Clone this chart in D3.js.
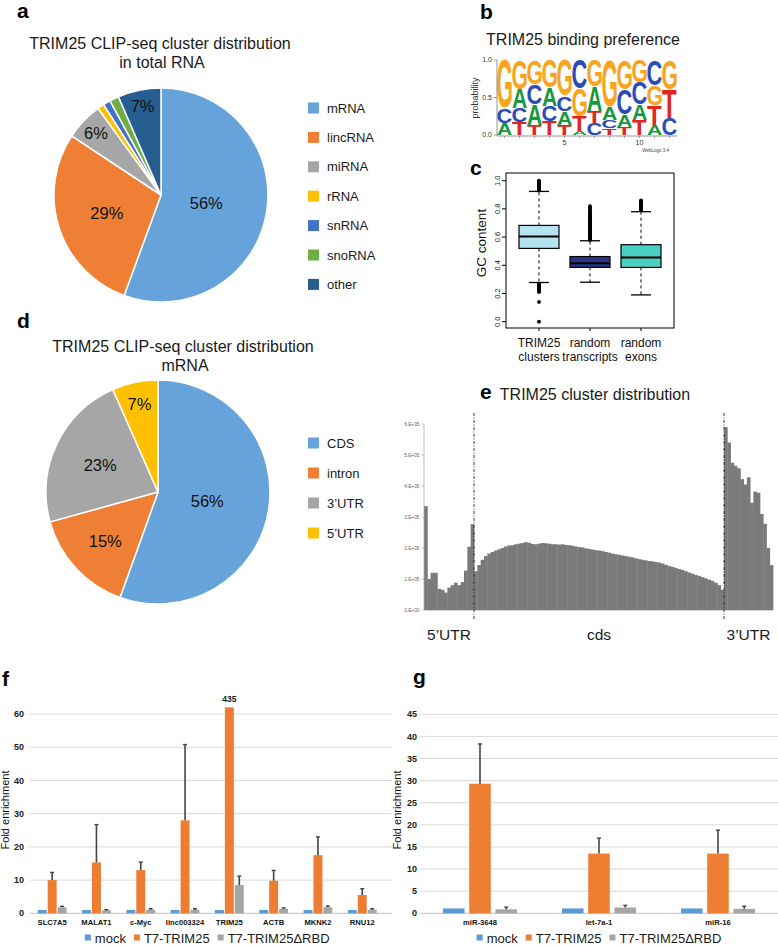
<!DOCTYPE html>
<html><head><meta charset="utf-8">
<script src="https://cdn.jsdelivr.net/npm/d3@7"></script>
<style>
body{margin:0;background:#fff}
svg{display:block;font-family:'Liberation Sans',Arial,Helvetica,sans-serif}
</style></head><body>
<svg id="fig" width="778" height="945"></svg>
<script>
// ---------------- DATA ----------------
// a: total RNA pie
const pieACats = ["mRNA","lincRNA","miRNA","rRNA","snRNA","snoRNA","other"];
const pieAValues = [55.6,28.7,5.7,1.0,1.1,1.4,6.5];
const pieALabels = ["56%","29%","6%","","","","7%"];
// d: mRNA pie
const pieDCats = ["CDS","intron","3\u2019UTR","5\u2019UTR"];
const pieDValues = [55.5,15.2,22.7,6.6];
const pieDLabels = ["56%","15%","23%","7%"];
// b: sequence logo (probabilities per position)
const logoPositions = [1,2,3,4,5,6,7,8,9,10,11,12];
const logoA = [0.16,0.25,0.27,0.24,0.18,0.05,0.33,0.18,0.16,0.21,0.14,0.00];
const logoC = [0.20,0.19,0.27,0.21,0.20,0.38,0.16,0.11,0.34,0.29,0.34,0.23];
const logoG = [0.64,0.39,0.32,0.37,0.48,0.37,0.35,0.62,0.39,0.30,0.27,0.39];
const logoT = [0.00,0.17,0.14,0.18,0.14,0.20,0.16,0.09,0.11,0.20,0.25,0.38];
const logoXTicks = [5,10];
const logoYTicks = [0,0.5,1];
// c: box plot
const boxGroups = [["TRIM25","clusters"],["random","transcripts"],["random","exons"]];
const boxQ1 = [0.52,0.385,0.385];
const boxMedian = [0.605,0.415,0.455];
const boxQ3 = [0.683,0.462,0.546];
const boxWhiskerLo = [0.278,0.28,0.19];
const boxWhiskerHi = [0.924,0.574,0.78];
const boxOutliers1 = [1.0,0.995,0.99,0.985,0.98,0.975,0.97,0.965,0.96,0.955,0.95,0.945,0.94,0.935,0.93,0.27,0.265,0.26,0.255,0.25,0.245,0.24,0.235,0.23,0.225,0.22,0.215,0.21,0.14,0.0];
const boxOutliers2 = [0.58,0.585,0.59,0.595,0.60,0.605,0.61,0.615,0.62,0.625,0.63,0.635,0.64,0.645,0.65,0.655,0.66,0.665,0.67,0.675,0.68,0.685,0.69,0.695,0.70,0.705,0.71,0.715,0.72,0.725,0.73,0.735,0.74,0.745,0.75,0.755,0.76,0.77,0.78,0.79,0.80,0.81,0.82];
const boxOutliers3 = [0.79,0.795,0.80,0.805,0.81,0.815,0.82,0.825,0.83,0.835,0.84,0.845,0.85,0.855,0.86];
const boxYTicks = [0,0.2,0.4,0.6,0.8,1.0];
// e: cluster distribution (units of 1e5)
const distUTR5 = [3.35,1.0,1.2,1.2,0.68,0.65,0.56,0.72,0.8,0.88,0.8,0.9,1.27,2.04,2.77];
const distCDS = [1.25,1.45,1.62,1.74,1.82,1.87,1.92,1.96,2.00,2.05,2.08,2.09,2.12,2.14,2.16,2.19,2.17,2.13,2.12,2.14,2.16,2.15,2.14,2.12,2.12,2.11,2.12,2.10,2.09,2.07,2.05,2.03,2.02,1.99,1.97,1.95,1.93,1.92,1.90,1.87,1.85,1.82,1.80,1.78,1.76,1.74,1.72,1.70,1.67,1.64,1.62,1.60,1.58,1.57,1.55,1.53,1.50,1.46,1.42,1.39,1.36,1.32,1.29,1.25,1.21,1.17,1.13,1.10,1.06,1.02,0.98,0.94,0.88,0.80,0.65];
const distUTR3 = [5.9,5.4,4.75,4.65,4.57,4.22,4.05,4.28,3.46,3.82,3.78,3.1,2.78,2.0,1.45];
const distYTicks = [0,1,2,3,4,5,6];
const distYTickLabels = ["0.E+00","1.E+05","2.E+05","3.E+05","4.E+05","5.E+05","6.E+05"];
const distRegions = ["5\u2019UTR","cds","3\u2019UTR"];
// f, g: fold enrichment
const seriesNames = ["mock","T7-TRIM25","T7-TRIM25\u0394RBD"];
const fCats = ["SLC7A5","MALAT1","c-Myc","linc003324","TRIM25","ACTB","MKNK2","RNU12"];
const fMock = [1,1,1,1,1,1,1,1];
const fT7 = [10,15.3,13,28,435,9.8,17.5,5.5];
const fT7Err = [2.3,11.4,2.4,22.8,0,3.1,5.5,1.9];
const fDRBD = [1.8,0.9,1.1,1.1,8.5,1.3,1.8,1.1];
const fDRBDErr = [0.3,0.2,0.3,0.3,2.7,0.3,0.4,0.3];
const fYTicks = [0,10,20,30,40,50,60];
const gCats = ["miR-3648","let-7a-1","miR-16"];
const gMock = [1.1,1.1,1.1];
const gT7 = [29.3,13.5,13.5];
const gT7Err = [9.0,3.5,5.3];
const gDRBD = [0.9,1.3,1.0];
const gDRBDErr = [0.5,0.5,0.6];
const gYTicks = [0,5,10,15,20,25,30,35,40,45];

// ---------------- DRAW ----------------
const svg = d3.select("#fig");
const INK = "#1a1a1a";
function txt(x,y,s,size,o={}){
  const t = svg.append("text").attr("x",x).attr("y",y).attr("font-size",size).attr("fill",o.fill||INK).text(s);
  if(o.anchor) t.attr("text-anchor",o.anchor);
  if(o.weight) t.attr("font-weight",o.weight);
  if(o.dy) t.attr("dy",o.dy);
  if(o.rot!=null) t.attr("transform",`rotate(${o.rot},${x},${y})`);
  return t;
}
// panel letters
[["a",17,18],["b",480,19],["c",470,175],["d",17,328],["e",480,399],["f",2,686],["g",413,684]]
  .forEach(([l,x,y])=>txt(x,y,l,21,{weight:"bold",fill:"#000"}));

// ---- pies ----
function pie(cx,cy,r,vals,labels,colors,labelR){
  const g = svg.append("g").attr("transform",`translate(${cx},${cy})`);
  const arcs = d3.pie().sort(null).value(d=>d)(vals);
  const arc = d3.arc().innerRadius(0).outerRadius(r);
  g.selectAll("path").data(arcs).join("path").attr("d",arc)
    .attr("fill",(d,i)=>colors[i]).attr("stroke","#fff").attr("stroke-width",1.5);
  arcs.forEach((a,i)=>{
    if(!labels[i]) return;
    const m=(a.startAngle+a.endAngle)/2, rr=labelR[i];
    g.append("text").attr("x",Math.sin(m)*rr).attr("y",-Math.cos(m)*rr).attr("dy","0.36em")
      .attr("text-anchor","middle").attr("font-size",16.5).attr("fill","#111").text(labels[i]);
  });
}
function legend(x,y0,step,cats,colors){
  cats.forEach((c,i)=>{
    const y=y0+i*step;
    svg.append("rect").attr("x",x).attr("y",y-5.5).attr("width",11).attr("height",11).attr("fill",colors[i]);
    txt(x+19,y,c,13,{dy:"0.36em"});
  });
}
const colA = ["#66a3da","#ee7f34","#a6a6a6","#ffc000","#4472c4","#70ad47","#265e92"];
txt(160,49,"TRIM25 CLIP-seq cluster distribution",16,{anchor:"middle"});
txt(162,68,"in total RNA",16,{anchor:"middle"});
pie(161,195,107,pieAValues,pieALabels,colA,[46,57,90,0,0,0,91]);
legend(308,108,29.4,pieACats,colA);

const colD = ["#66a3da","#ee7f34","#a6a6a6","#ffc000"];
txt(183,352,"TRIM25 CLIP-seq cluster distribution",16,{anchor:"middle"});
txt(185,371,"mRNA",16,{anchor:"middle"});
pie(158,492,112,pieDValues,pieDLabels,colD,[50,72,64,90]);
legend(308,443,30,pieDCats,colD);

// ---- b: sequence logo ----
txt(583,45,"TRIM25 binding preference",16,{anchor:"middle"});
const lx = d3.scaleBand().domain(logoPositions).range([497,677]).paddingInner(0.04).paddingOuter(0.02);
const ly = d3.scaleLinear().domain([0,1]).range([135,60]);
const logoColors = {A:"#17993b",C:"#2b4db5",G:"#f7a51e",T:"#e2251f"};
const ctx = document.createElement("canvas").getContext("2d");
ctx.font = "bold 100px 'Liberation Sans'";
const met = {};
["A","C","G","T"].forEach(l=>met[l]=ctx.measureText(l));
logoPositions.forEach((p,i)=>{
  const stack=[{l:"A",v:logoA[i]},{l:"C",v:logoC[i]},{l:"G",v:logoG[i]},{l:"T",v:logoT[i]}]
    .filter(d=>d.v>0).sort((a,b)=>a.v-b.v);
  let cum=0;
  stack.forEach(d=>{
    const y0=ly(cum), y1=ly(cum+d.v); cum+=d.v;
    const m=met[d.l], w=lx.bandwidth(), h=y0-y1;
    const iw=m.actualBoundingBoxLeft+m.actualBoundingBoxRight;
    const ih=m.actualBoundingBoxAscent+m.actualBoundingBoxDescent;
    const sx=w/iw, sy=h/ih;
    svg.append("text").attr("font-size",100).attr("font-weight","bold").attr("fill",logoColors[d.l])
      .attr("transform",`translate(${lx(p)+m.actualBoundingBoxLeft*sx},${y0-m.actualBoundingBoxDescent*sy}) scale(${sx},${sy})`)
      .text(d.l);
  });
});
svg.append("line").attr("x1",497).attr("x2",497).attr("y1",ly(1)).attr("y2",ly(0)+1).attr("stroke","#666").attr("stroke-width",0.7);
svg.append("line").attr("x1",497).attr("x2",677).attr("y1",136).attr("y2",136).attr("stroke","#666").attr("stroke-width",0.7);
logoYTicks.forEach(t=>{
  svg.append("line").attr("x1",494).attr("x2",497).attr("y1",ly(t)).attr("y2",ly(t)).attr("stroke","#666").attr("stroke-width",0.7);
  txt(492,ly(t),d3.format(".1f")(t),7,{anchor:"end",dy:"0.35em",fill:"#333"});
});
logoPositions.forEach(p=>{
  const cx=lx(p)+lx.bandwidth()/2;
  svg.append("line").attr("x1",cx).attr("x2",cx).attr("y1",136).attr("y2",138).attr("stroke","#666").attr("stroke-width",0.6);
});
logoXTicks.forEach(t=>txt(lx(t)+lx.bandwidth()/2,145,String(t),7,{anchor:"middle",fill:"#333"}));
txt(478,98,"probability",9,{anchor:"middle",rot:-90,fill:"#333"});
txt(669,152,"WebLogo 3.4",4.5,{anchor:"end",fill:"#444"});

// ---- c: box plot ----
const by = d3.scaleLinear().domain([0,1]).range([321.7,180.7]);
const bx = d3.scalePoint().domain(d3.range(boxGroups.length)).range([506,674]).padding(0.647);
const boxColors = ["#b5e3ef","#2c3582","#4bcfc1"];
const boxOut = [boxOutliers1,boxOutliers2,boxOutliers3];
svg.append("rect").attr("x",506).attr("y",173).attr("width",168).attr("height",155).attr("fill","none").attr("stroke","#000").attr("stroke-width",1);
boxYTicks.forEach(t=>{
  svg.append("line").attr("x1",502).attr("x2",506).attr("y1",by(t)).attr("y2",by(t)).attr("stroke","#000");
  txt(500,by(t),d3.format(".1f")(t),7.5,{anchor:"middle",rot:-90,fill:"#111"});
});
txt(486,243,"GC content",13.5,{anchor:"middle",rot:-90,fill:"#111"});
boxGroups.forEach((g,i)=>{
  const cx=bx(i), hw=20;
  svg.append("line").attr("x1",cx).attr("x2",cx).attr("y1",328).attr("y2",331).attr("stroke","#000");
  [[boxQ3[i],boxWhiskerHi[i]],[boxQ1[i],boxWhiskerLo[i]]].forEach(([a,b])=>{
    svg.append("line").attr("x1",cx).attr("x2",cx).attr("y1",by(a)).attr("y2",by(b)).attr("stroke","#000").attr("stroke-dasharray","3,3");
    svg.append("line").attr("x1",cx-10).attr("x2",cx+10).attr("y1",by(b)).attr("y2",by(b)).attr("stroke","#000").attr("stroke-width",1.3);
  });
  boxOut[i].forEach(v=>svg.append("circle").attr("cx",cx).attr("cy",by(v)).attr("r",1.9).attr("fill","#000"));
  svg.append("rect").attr("x",cx-hw).attr("y",by(boxQ3[i])).attr("width",2*hw).attr("height",by(boxQ1[i])-by(boxQ3[i]))
    .attr("fill",boxColors[i]).attr("stroke","#000").attr("stroke-width",1.2);
  svg.append("line").attr("x1",cx-hw).attr("x2",cx+hw).attr("y1",by(boxMedian[i])).attr("y2",by(boxMedian[i])).attr("stroke","#000").attr("stroke-width",2);
  txt(cx,347,g[0],12,{anchor:"middle",fill:"#111"});
  txt(cx,361,g[1],12,{anchor:"middle",fill:"#111"});
});

// ---- e: cluster distribution ----
txt(595,400,"TRIM25 cluster distribution",16,{anchor:"middle"});
const ey = d3.scaleLinear().domain([0,6]).range([610,424]);
const regions = [[distUTR5,424,474],[distCDS,474,724],[distUTR3,724,773]];
regions.forEach(([arr,a,b])=>{
  const sx=d3.scaleBand().domain(d3.range(arr.length)).range([a,b]);
  svg.append("g").selectAll("rect").data(arr).join("rect")
    .attr("x",(d,i)=>sx(i)).attr("width",sx.bandwidth()+0.4)
    .attr("y",d=>ey(d)).attr("height",d=>ey(0)-ey(d)).attr("fill","#7a7a7a");
});
svg.append("line").attr("x1",424).attr("x2",773).attr("y1",610.5).attr("y2",610.5).attr("stroke","#c8c8c8").attr("stroke-width",0.8);
svg.append("line").attr("x1",424).attr("x2",424).attr("y1",ey(6)).attr("y2",ey(0)).attr("stroke","#aaa").attr("stroke-width",0.8);
distYTicks.forEach((t,i)=>{
  svg.append("line").attr("x1",421.5).attr("x2",424).attr("y1",ey(t)).attr("y2",ey(t)).attr("stroke","#aaa").attr("stroke-width",0.6);
  txt(419.5,ey(t),distYTickLabels[i],4.8,{anchor:"end",dy:"0.35em",fill:"#666"});
});
[474,724].forEach(x=>svg.append("line").attr("x1",x).attr("x2",x).attr("y1",413).attr("y2",620)
  .attr("stroke","#222").attr("stroke-width",0.9).attr("stroke-dasharray","3,1.5,1,1.5"));
regions.forEach(([arr,a,b],i)=>txt((a+b)/2,640,distRegions[i],15.5,{anchor:"middle"}));

// ---- f, g: grouped bars ----
const serColors = ["#5b9bd5","#ed7d31","#a5a5a5"];
function grouped(o){
  const x0=d3.scaleBand().domain(o.cats).range(o.xr).paddingInner(o.pi).paddingOuter(o.pi/2);
  const x1=d3.scaleBand().domain(d3.range(3)).range([0,x0.bandwidth()]).paddingInner(o.pi1);
  const y=d3.scaleLinear().domain([0,o.ymax]).range([913.3,o.ytop]);
  o.ticks.forEach(t=>{
    svg.append("line").attr("x1",o.gx[0]).attr("x2",o.gx[1]).attr("y1",y(t)).attr("y2",y(t))
      .attr("stroke",t===0?"#bfbfbf":"#d9d9d9").attr("stroke-width",1);
    txt(o.labX,y(t),String(t),9,{anchor:"end",dy:"0.35em",fill:"#222",weight:"bold"});
  });
  txt(o.ylabX,810,"Fold enrichment",11,{anchor:"middle",rot:-90,fill:"#111"});
  const vals=[o.mock,o.t7,o.drbd], errs=[null,o.t7e,o.drbde];
  o.cats.forEach((c,ci)=>{
    vals.forEach((arr,si)=>{
      const v=Math.min(arr[ci],o.clip||Infinity);
      const bx0=x0(c)+x1(si), w=x1.bandwidth();
      svg.append("rect").attr("x",bx0).attr("y",y(v)).attr("width",w).attr("height",y(0)-y(v)).attr("fill",serColors[si]);
      if(errs[si] && errs[si][ci]>0){
        const top=y(arr[ci]+errs[si][ci]), cx=bx0+w/2;
        svg.append("line").attr("x1",cx).attr("x2",cx).attr("y1",y(v)).attr("y2",top).attr("stroke","#444").attr("stroke-width",1.6);
        svg.append("line").attr("x1",cx-2).attr("x2",cx+2).attr("y1",top).attr("y2",top).attr("stroke","#444").attr("stroke-width",1.4);
      }
      if(o.clip && arr[ci]>o.clip) txt(bx0+w/2,y(v)-5,String(arr[ci]),8.5,{anchor:"middle",weight:"bold"});
    });
    txt(x0(c)+x0.bandwidth()/2,925,c,7.6,{anchor:"middle",fill:"#111",weight:"bold"});
  });
  // legend centred under plot
  const lg=svg.append("g");
  let x=0;
  seriesNames.forEach((s,i)=>{
    lg.append("rect").attr("x",x).attr("y",934.5).attr("width",6).attr("height",6).attr("fill",serColors[i]);
    const t=lg.append("text").attr("x",x+10).attr("y",942.5).attr("font-size",13).attr("fill",INK).text(s);
    x+=10+t.node().getComputedTextLength()+8;
  });
  const lw=x-8, mid=(o.xr[0]+o.xr[1])/2;
  lg.attr("transform",`translate(${mid-lw/2},0)`);
}
grouped({cats:fCats,mock:fMock,t7:fT7,t7e:fT7Err,drbd:fDRBD,drbde:fDRBDErr,xr:[30,384.4],pi:0.35,pi1:0.1,
  ymax:60,ytop:714,ticks:fYTicks,gx:[30,392],labX:24,ylabX:9,clip:62});
grouped({cats:gCats,mock:gMock,t7:gT7,t7e:gT7Err,drbd:gDRBD,drbde:gDRBDErr,xr:[420.5,777.5],pi:0.378,pi1:0.18,
  ymax:45,ytop:714.3,ticks:gYTicks,gx:[420,778],labX:417,ylabX:401});
</script>
</body></html>
